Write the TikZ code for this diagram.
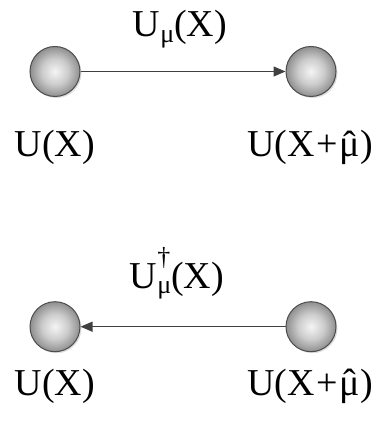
\documentclass[tikz,border=0pt]{standalone}
\usepackage{fontspec}
\setmainfont{Liberation Serif}
\usetikzlibrary{arrows.meta,shadows}
\definecolor{ballin}{gray}{0.96}
\definecolor{ballmid}{gray}{0.80}
\definecolor{ballout}{gray}{0.56}
\definecolor{ballrim}{gray}{0.30}
\definecolor{linkcol}{gray}{0.25}
\pgfdeclareradialshading{ballshade}{\pgfpoint{0bp}{0bp}}{color(0bp)=(ballin); color(13bp)=(ballmid); color(25bp)=(ballout); color(50bp)=(ballout)}
\newcommand{\smallsz}{\fontsize{26}{26}\selectfont}
\newcommand{\Umu}{U\raisebox{-0.15em}{\smallsz μ}(X)}
\newcommand{\Udag}{U\rlap{\raisebox{0.58em}{\smallsz †}}\raisebox{-0.15em}{\smallsz μ}(X)}
\newcommand{\muhat}{\ooalign{μ\cr\hidewidth\raisebox{-0.02em}{ˆ}\hidewidth\cr}}
\begin{document}
\begin{tikzpicture}[x=1pt,y=-1pt,
  site/.style={circle,draw=ballrim,line width=1pt,shading=ballshade,minimum size=50pt,inner sep=0pt,
    drop shadow={shadow xshift=1.5pt,shadow yshift=-1.5pt,fill=gray!45,opacity=0.6}},
  lbl/.style={anchor=base,inner sep=0pt,font=\fontsize{38}{38}\selectfont},
  link/.style={draw=linkcol,line width=1.2pt,-{Triangle[length=12pt,width=10pt]}}]
\useasboundingbox (0,0) rectangle (386,430);
% top pair
\node[site] (a1) at (55,71.5) {};
\node[site] (a2) at (311,71.5) {};
\draw[link] (a1) -- (a2);
\node[lbl] (t1) at (180,37) {\Umu};
\node[lbl] (la1) at (55,157) {U(X)};
\node[lbl] (la2) at (310,157) {U(X\kern2pt+\kern2pt\muhat)};
% bottom pair
\node[site] (b1) at (55,326.7) {};
\node[site] (b2) at (311,326.7) {};
\draw[link] (b2) -- (b1);
\node[lbl] (t2) at (177,288) {\Udag};
\node[lbl] (lb1) at (55,395) {U(X)};
\node[lbl] (lb2) at (310,395) {U(X\kern2pt+\kern2pt\muhat)};
\end{tikzpicture}
\end{document}
